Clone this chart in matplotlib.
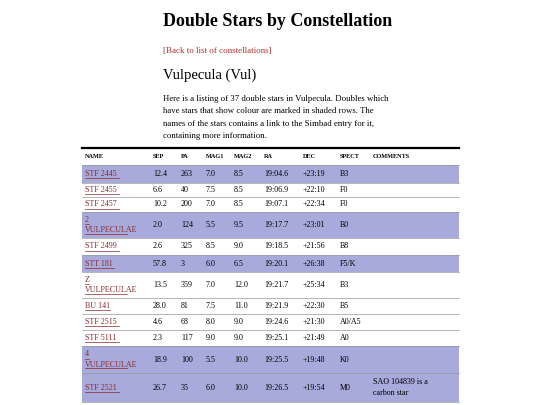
import matplotlib
matplotlib.use("Agg")
import matplotlib.pyplot as plt
from matplotlib.patches import Rectangle

names = ["STF 2445", "STF 2455", "STF 2457", "2\nVULPECULAE", "STF 2499", "STT 181",
         "Z\nVULPECULAE", "BU 141", "STF 2515", "STF 5111", "4\nVULPECULAE", "STF 2521"]
sep = ["12.4", "6.6", "10.2", "2.0", "2.6", "57.8", "13.5", "28.0", "4.6", "2.3", "18.9", "26.7"]
pa = ["263", "40", "200", "124", "325", "3", "359", "81", "68", "117", "100", "35"]
mag1 = ["7.0", "7.5", "7.0", "5.5", "8.5", "6.0", "7.0", "7.5", "8.0", "9.0", "5.5", "6.0"]
mag2 = ["8.5", "8.5", "8.5", "9.5", "9.0", "6.5", "12.0", "11.0", "9.0", "9.0", "10.0", "10.0"]
ra = ["19:04.6", "19:06.9", "19:07.1", "19:17.7", "19:18.5", "19:20.1", "19:21.7", "19:21.9",
      "19:24.6", "19:25.1", "19:25.5", "19:26.5"]
dec = ["+23:19", "+22:10", "+22:34", "+23:01", "+21:56", "+26:38", "+25:34", "+22:30",
       "+21:30", "+21:49", "+19:48", "+19:54"]
spect = ["B3", "F0", "F0", "B0", "B8", "F5/K", "B3", "B5", "A0/A5", "A0", "K0", "M0"]
comments = ["", "", "", "", "", "", "", "", "", "", "", "SAO 104839 is a\ncarbon star"]
shaded = [True, False, False, True, False, True, False, False, False, False, True, True]
headers = ["NAME", "SEP", "PA", "MAG1", "MAG2", "RA", "DEC", "SPECT", "COMMENTS"]

row_edges = [165, 183, 197, 212, 238, 255, 272, 298, 314, 330, 346, 373, 402]
col_x = [85, 153, 181, 206, 234, 264, 303, 340, 373]
SERIF = ["Liberation Serif", "DejaVu Serif"]
LINK = "#8b2a2a"
SHADE = "#a9aadc"

fig = plt.figure(figsize=(5.4, 4.05), dpi=100)
ax = fig.add_axes([0, 0, 1, 1])
ax.set_xlim(0, 540)
ax.set_ylim(405, 0)
ax.axis("off")

ax.text(163, 22, "Double Stars by Constellation", fontsize=13, fontweight="bold",
        family=SERIF, va="center", ha="left")
ax.text(163, 51, "[Back to list of constellations]", fontsize=6.5, family=SERIF,
        color="#b03030", va="center")
ax.text(163, 75, "Vulpecula (Vul)", fontsize=10.5, family=SERIF, va="center")
para = ["Here is a listing of 37 double stars in Vulpecula. Doubles which",
        "have stars that show colour are marked in shaded rows. The",
        "names of the stars contains a link to the Simbad entry for it,",
        "containing more information."]
for i, line in enumerate(para):
    ax.text(163, 99 + i * 12.3, line, fontsize=6.3, family=SERIF, va="center")

ax.plot([82, 459], [148, 148], color="black", lw=1.6)
for h, x in zip(headers, col_x):
    ax.text(x, 157, h, fontsize=4.5, family=SERIF, va="center", fontweight="bold")
ax.plot([82, 459], [165, 165], color="#999999", lw=0.5)

for i in range(len(names)):
    y0, y1 = row_edges[i], row_edges[i + 1]
    yc = (y0 + y1) / 2
    if shaded[i]:
        ax.add_patch(Rectangle((82, y0), 377, y1 - y0, facecolor=SHADE, edgecolor="none"))
    ax.plot([82, 459], [y1, y1], color="#999999", lw=0.5)
    ax.text(col_x[0], yc, names[i], fontsize=5.8, family=SERIF, color=LINK, va="center",
            linespacing=1.45)
    lines = names[i].split("\n")
    n = len(lines)
    for k, ln in enumerate(lines):
        ly = yc + (k - (n - 1) / 2) * 9.5 + 4
        ax.plot([col_x[0], col_x[0] + len(ln) * 4.2], [ly, ly], color=LINK, lw=0.5)
    vals = [sep[i], pa[i], mag1[i], mag2[i], ra[i], dec[i], spect[i]]
    for v, x in zip(vals, col_x[1:8]):
        ax.text(x, yc, v, fontsize=5.8, family=SERIF, va="center")
    if comments[i]:
        ax.text(col_x[8], yc, comments[i], fontsize=5.8, family=SERIF, va="center",
                linespacing=1.5)

fig.savefig("out.png", dpi=100, facecolor="white")
